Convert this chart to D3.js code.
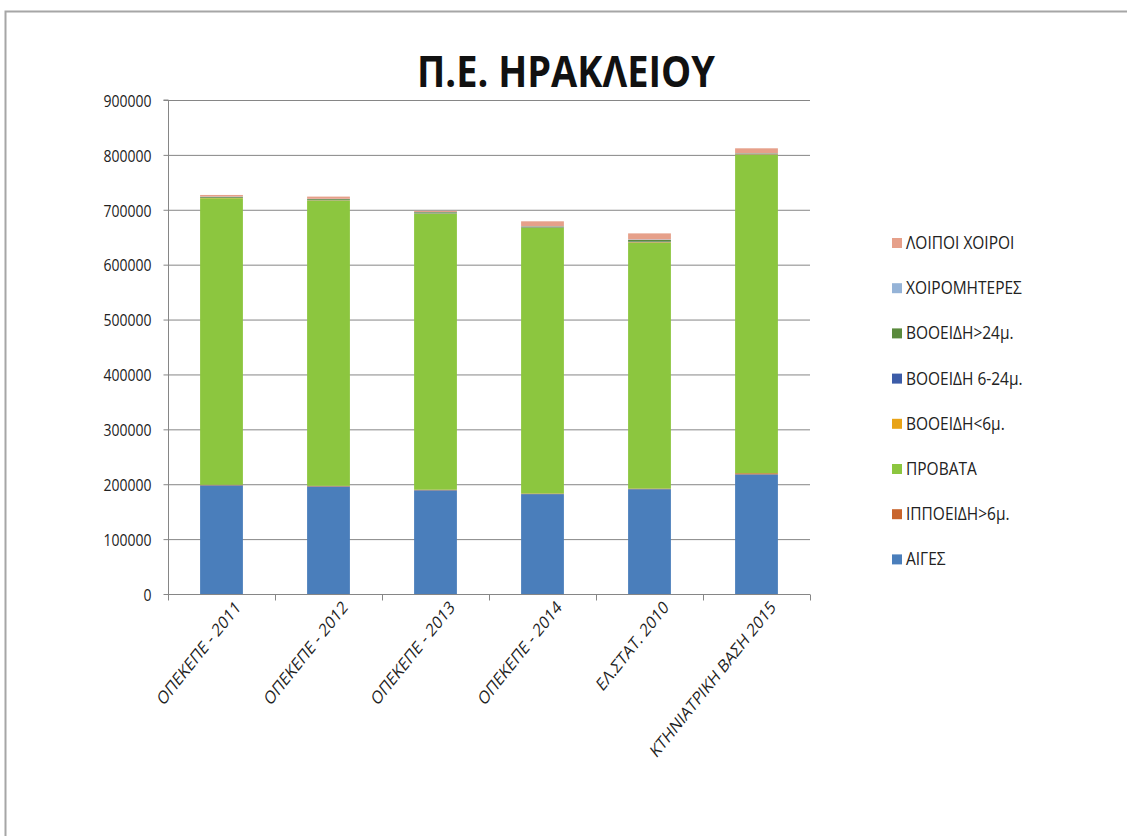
<!DOCTYPE html>
<html><head><meta charset="utf-8">
<script src="https://cdn.jsdelivr.net/npm/d3@7"></script>
<style>html,body{margin:0;background:#fff;overflow:hidden}svg{display:block;overflow:hidden}</style>
</head><body>
<script>
const categories = ["ΟΠΕΚΕΠΕ - 2011","ΟΠΕΚΕΠΕ - 2012","ΟΠΕΚΕΠΕ - 2013","ΟΠΕΚΕΠΕ - 2014","ΕΛ.ΣΤΑΤ. 2010","ΚΤΗΝΙΑΤΡΙΚΗ ΒΑΣΗ 2015"];
const seriesNames = ["ΑΙΓΕΣ","ΙΠΠΟΕΙΔΗ>6μ.","ΠΡΟΒΑΤΑ","ΒΟΟΕΙΔΗ<6μ.","ΒΟΟΕΙΔΗ 6-24μ.","ΒΟΟΕΙΔΗ>24μ.","ΧΟΙΡΟΜΗΤΕΡΕΣ","ΛΟΙΠΟΙ ΧΟΙΡΟΙ"];
const aiges      = [198000,196000,189000,182000,191000,218000];
const ippoeidh   = [1000,1000,1000,1000,1000,2000];
const probata    = [522000,520000,503000,484000,448000,580000];
const vooeidh6   = [500,500,500,500,1000,1000];
const vooeidh624 = [500,500,500,500,1000,500];
const vooeidh24  = [1500,1500,1500,1500,3000,1000];
const xoiromht   = [500,500,500,500,1000,500];
const loipoi     = [3000,4000,2000,9000,11000,9000];
const yTicks = [0,100000,200000,300000,400000,500000,600000,700000,800000,900000];
const title = "Π.Ε. ΗΡΑΚΛΕΙΟΥ";
const colors = ["#4A7EBB","#C8642C","#8CC63F","#E8A317","#3C5CA8","#5A8A3C","#95B3D7","#E6A08A"];

const seriesValues = [aiges,ippoeidh,probata,vooeidh6,vooeidh624,vooeidh24,xoiromht,loipoi];
const rows = categories.map((c,i)=>{const r={cat:c};seriesNames.forEach((s,j)=>r[s]=seriesValues[j][i]);return r;});
const stack = d3.stack().keys(seriesNames)(rows);

const W=1127,H=836;
const FONT="Open Sans, sans-serif";
const svg=d3.select("body").append("svg").attr("width",W).attr("height",H);
svg.append("rect").attr("x",5.5).attr("y",11.5).attr("width",1300).attr("height",1000).attr("fill","#fff").attr("stroke","#a6a6a6").attr("stroke-width",2);

const m={l:168,r:810,t:100,b:594};
const x=d3.scaleBand().domain(categories).range([m.l,m.r]).paddingInner(0.6).paddingOuter(0.3);
const y=d3.scaleLinear().domain([0,900000]).range([m.b,m.t]);

svg.append("g").selectAll("line").data(yTicks.slice(1)).join("line")
 .attr("x1",m.l).attr("x2",m.r).attr("y1",d=>y(d)+0.5).attr("y2",d=>y(d)+0.5).attr("stroke","#868686").attr("stroke-width",1);

svg.append("g").selectAll("g").data(stack).join("g").attr("fill",(d,i)=>colors[i])
 .selectAll("rect").data(d=>d).join("rect")
 .attr("x",d=>x(d.data.cat)).attr("width",x.bandwidth())
 .attr("y",d=>y(d[1])).attr("height",d=>Math.max(0,y(d[0])-y(d[1])));

const yAxis=d3.axisLeft(y).tickValues(yTicks).tickSize(5).tickPadding(12).tickFormat(d3.format("d"));
const gy=svg.append("g").attr("transform",`translate(${m.l+0.5},0)`).call(yAxis);
gy.selectAll("path,line").attr("stroke","#868686");
gy.select(".domain").attr("d",`M-5,${m.t}H0V${m.b}`);
gy.selectAll(".tick text").attr("font-family",FONT).attr("font-size",14).attr("fill","#222")
  .attr("dy",null).attr("y",0).attr("dominant-baseline","central")
  .attr("transform","scale(1,1.12)");

const band=(m.r-m.l)/categories.length;
const gx=svg.append("g").attr("transform",`translate(0,${m.b+0.5})`);
gx.append("line").attr("x1",m.l).attr("x2",m.r).attr("stroke","#868686");
gx.selectAll("line.t").data(d3.range(categories.length+1)).join("line").attr("class","t")
 .attr("x1",i=>m.l+i*band+0.5).attr("x2",i=>m.l+i*band+0.5).attr("y1",0).attr("y2",6).attr("stroke","#868686");
gx.selectAll("text").data(categories).join("text")
 .attr("transform",d=>`translate(${x(d)+x.bandwidth()/2+20},14) scale(1,1.25) rotate(-45)`)
 .attr("text-anchor","end").attr("font-family",FONT).attr("font-size",14.5).attr("fill","#222").text(d=>d);

svg.append("text").attr("transform","translate(566,87) scale(1,1.15)").attr("text-anchor","middle")
 .attr("font-family",FONT).attr("font-weight","bold").attr("font-size",38).attr("fill","#111").text(title);

const lg=svg.append("g");
const order=seriesNames.map((s,i)=>i).reverse();
lg.selectAll("g").data(order).join("g").attr("transform",(d,k)=>`translate(892,${243+k*45.2})`)
 .each(function(i){
   const g=d3.select(this);
   g.append("rect").attr("x",0).attr("y",-5).attr("width",10).attr("height",10).attr("fill",colors[i]);
   g.append("text").attr("transform","translate(14,6) scale(1,1.15)").attr("font-family",FONT).attr("font-size",15.5).attr("fill","#222").text(seriesNames[i]);
 });
</script>
</body></html>
